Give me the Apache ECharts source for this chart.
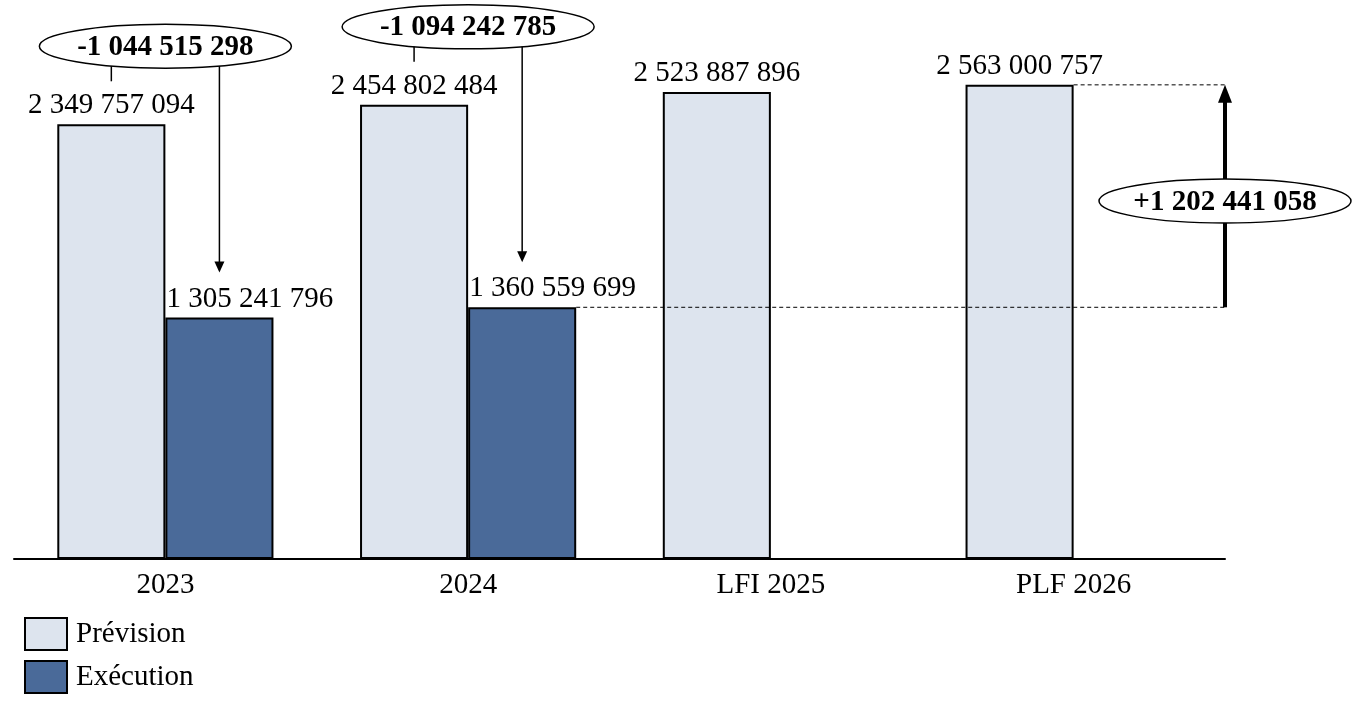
<!DOCTYPE html>
<html>
<head>
<meta charset="utf-8">
<script src="https://cdn.jsdelivr.net/npm/echarts@6/dist/echarts.min.js"></script>
<style>
html,body{margin:0;padding:0;background:#fff;}
#chart{width:1358px;height:713px;}
</style>
</head>
<body>
<div id="chart"></div>
<script>
const categories = ['2023', '2024', 'LFI 2025', 'PLF 2026'];
const prevision = [2349757094, 2454802484, 2523887896, 2563000757];
const execution = [1305241796, 1360559699, null, null];
const seriesNames = ['Prévision', 'Exécution'];

const FONT = 'Liberation Serif';
const fmt = v => String(v).replace(/\B(?=(\d{3})+(?!\d))/g, ' ');
const fmtSigned = v => (v > 0 ? '+' : '-') + fmt(Math.abs(v));

// annotation data: [categoryIndex, kind]  kind 0 = gap prevision/execution in same year, 1 = growth arrow
const annotations = [[0, 0], [1, 0], [3, 1]];
const BAR_FRAC = 0.357;

function renderAnno(params, api) {
  const idx = api.value(0);
  const kind = api.value(1);
  const bandW = api.size([1, 0])[0];
  const barW = bandW * BAR_FRAC;
  const cx = api.coord([idx, 0])[0];
  const children = [];
  const ellipse = (x, y, text) => {
    children.push({
      type: 'ellipse', shape: {cx: x, cy: y, rx: 126, ry: 22},
      style: {fill: '#fff', stroke: '#000', lineWidth: 1.5}
    });
    children.push({
      type: 'text', x: x, y: y + 1,
      style: {text: text, font: 'bold 29px "' + FONT + '"', fill: '#000', align: 'center', verticalAlign: 'middle'}
    });
  };
  if (kind === 0) {
    const pv = prevision[idx], ev = execution[idx];
    const pTop = api.coord([idx, pv])[1];
    const eTop = api.coord([idx, ev])[1];
    const pX = cx - barW / 2, eX = cx + barW / 2;
    const ey = pTop - 78;
    children.push({type: 'line', shape: {x1: pX, y1: ey, x2: pX, y2: pTop - 43}, style: {stroke: '#000', lineWidth: 1.5}});
    const tipY = eTop - 45;
    children.push({type: 'line', shape: {x1: eX, y1: ey, x2: eX, y2: tipY - 8}, style: {stroke: '#000', lineWidth: 1.5}});
    children.push({type: 'polygon', shape: {points: [[eX - 5, tipY - 11], [eX + 5, tipY - 11], [eX, tipY]]}, style: {fill: '#000'}});
    ellipse(cx, ey, fmtSigned(ev - pv));
  } else {
    const base = execution[1];
    const top = prevision[idx];
    const yBase = api.coord([idx, base])[1];
    const yTop = api.coord([idx, top])[1];
    const x = cx + bandW / 2;
    const baseBarRight = api.coord([1, 0])[0] + barW;
    const topBarRight = cx;
    const dash = {stroke: '#000', lineWidth: 1, lineDash: [4, 3]};
    children.push({type: 'line', shape: {x1: baseBarRight, y1: yBase, x2: x, y2: yBase}, style: dash});
    children.push({type: 'line', shape: {x1: topBarRight, y1: yTop, x2: x, y2: yTop}, style: dash});
    children.push({type: 'line', shape: {x1: x, y1: yBase, x2: x, y2: yTop + 16}, style: {stroke: '#000', lineWidth: 4}});
    children.push({type: 'polygon', shape: {points: [[x - 7, yTop + 18], [x + 7, yTop + 18], [x, yTop]]}, style: {fill: '#000'}});
    ellipse(x, (yBase + yTop) / 2 + 5, fmtSigned(top - base));
  }
  return {type: 'group', children: children};
}

const chart = echarts.init(document.getElementById('chart'), null, {renderer: 'canvas'});
chart.setOption({
  animation: false,
  backgroundColor: '#fff',
  textStyle: {fontFamily: FONT},
  grid: {left: 14, right: 133, top: 4, bottom: 154, containLabel: false},
  legend: {
    orient: 'vertical', left: 19, top: 612, itemWidth: 42, itemHeight: 32, itemGap: 9,
    icon: 'rect',
    data: seriesNames,
    textStyle: {fontFamily: FONT, fontSize: 29, color: '#000', padding: [0, 0, 0, 4]}
  },
  xAxis: {
    type: 'category', data: categories,
    axisLine: {lineStyle: {color: '#000', width: 2}},
    axisTick: {show: false},
    axisLabel: {fontFamily: FONT, fontSize: 29, color: '#000', margin: 12}
  },
  yAxis: {type: 'value', min: 0, max: 3000000000, show: false, splitLine: {show: false}},
  series: [
    {
      name: seriesNames[0], type: 'bar', data: prevision, barWidth: (BAR_FRAC * 100) + '%', barGap: '0%',
      itemStyle: {color: '#DDE4EE', borderColor: '#000', borderWidth: 2},
      label: {show: true, position: 'top', distance: 4, formatter: p => fmt(p.value), fontFamily: FONT, fontSize: 29, color: '#000'}
    },
    {
      name: seriesNames[1], type: 'bar', data: execution, barWidth: (BAR_FRAC * 100) + '%', barGap: '0%',
      itemStyle: {color: '#4A6A99', borderColor: '#000', borderWidth: 2},
      label: {show: true, position: [1, -4], align: 'left', verticalAlign: 'bottom', formatter: p => fmt(p.value), fontFamily: FONT, fontSize: 29, color: '#000'}
    },
    {
      type: 'custom', data: annotations, renderItem: renderAnno, clip: false, z: 10,
      silent: true, encode: {x: 0, y: -1}, tooltip: {show: false}
    }
  ]
});
</script>
</body>
</html>
